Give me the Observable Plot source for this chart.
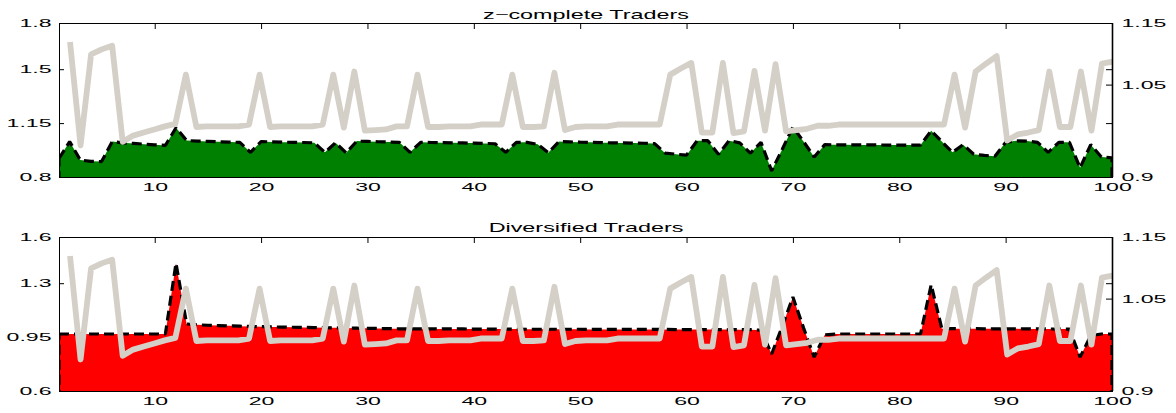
<!DOCTYPE html>
<html>
<head>
<meta charset="utf-8">
<script src="https://cdn.jsdelivr.net/npm/d3@7"></script>
<script src="https://cdn.jsdelivr.net/npm/@observablehq/plot@0.6"></script>
<style>
  html, body { margin: 0; padding: 0; background: #ffffff; }
  #chart { position: relative; width: 1176px; height: 413px; overflow: hidden; }
  .layer { position: absolute; left: 0; width: 1176px; }
  .layer svg { position: absolute; left: 0; top: 0; }
</style>
</head>
<body>
<div id="chart"></div>
<script>
// ---------------- data ----------------
const periods = d3.range(1, 101);          // left-axis x positions 1..100
const rightIndex = d3.range(1, 101);       // right-axis x positions (axes xlim 0..100)

const zComplete = [
  0.92, 1.03, 0.91, 0.902, 0.90, 1.03, 1.022, 1.018, 1.013, 1.009,
  1.005, 1.12, 1.037, 1.033, 1.031, 1.029, 1.027, 1.025, 0.96, 1.03,
  1.028, 1.026, 1.025, 1.024, 1.022, 0.96, 1.022, 0.957, 1.033, 1.031,
  1.029, 1.027, 1.025, 0.96, 1.025, 1.024, 1.023, 1.022, 1.021, 1.02,
  1.018, 1.016, 0.96, 1.025, 1.025, 1.012, 0.958, 1.03, 1.028, 1.026,
  1.025, 1.023, 1.022, 1.021, 1.02, 1.019, 1.017, 0.955, 0.948, 0.942,
  1.036, 1.036, 0.948, 1.036, 1.022, 0.955, 1.025, 0.84, 0.98, 1.125,
  1.03, 0.93, 1.01, 1.009, 1.009, 1.008, 1.008, 1.008, 1.007, 1.007,
  1.007, 1.007, 1.10, 1.03, 0.96, 1.01, 0.948, 0.94, 0.935, 1.025,
  1.035, 1.033, 1.025, 0.96, 1.025, 1.025, 0.86, 1.01, 0.93, 0.925
];

const diversified = [
  0.97, 0.97, 0.97, 0.97, 0.97, 0.97, 0.97, 0.97, 0.97, 0.97,
  0.97, 1.43, 1.035, 1.03, 1.027, 1.025, 1.023, 1.021, 1.019, 1.018,
  1.016, 1.015, 1.014, 1.013, 1.012, 1.011, 1.01, 1.009, 1.008, 1.007,
  1.006, 1.005, 1.004, 1.004, 1.004, 1.003, 1.003, 1.003, 1.003, 1.002,
  1.002, 1.002, 1.002, 1.002, 1.001, 1.001, 1.001, 1.001, 1.001, 1.001,
  1.0, 1.0, 1.0, 1.0, 1.0, 1.0, 1.0, 1.0, 0.999, 0.999,
  0.999, 0.999, 0.999, 0.999, 0.998, 0.998, 0.995, 0.84, 1.02, 1.21,
  1.01, 0.82, 0.965, 0.97, 0.97, 0.97, 0.97, 0.97, 0.97, 0.97,
  0.97, 0.97, 1.29, 1.005, 1.005, 1.005, 1.005, 1.004, 1.004, 1.004,
  1.004, 1.003, 1.003, 1.003, 1.002, 1.002, 0.82, 0.96, 0.97, 0.97
];

const rightSeries = [
  1.12, 0.952, 1.10, 1.108, 1.114, 0.958, 0.968, 0.973, 0.978, 0.983,
  0.987, 1.067, 0.982, 0.983, 0.983, 0.983, 0.983, 0.986, 1.067, 0.982,
  0.983, 0.983, 0.983, 0.983, 0.986, 1.067, 0.981, 1.072, 0.976, 0.977,
  0.978, 0.983, 0.983, 1.067, 0.982, 0.982, 0.983, 0.983, 0.983, 0.986,
  0.986, 0.986, 1.067, 0.982, 0.982, 0.983, 1.07, 0.977, 0.982, 0.983,
  0.983, 0.983, 0.986, 0.986, 0.986, 0.986, 0.986, 1.067, 1.077, 1.086,
  0.973, 0.973, 1.086, 0.972, 0.975, 1.073, 0.976, 1.084, 0.975, 0.977,
  0.979, 0.984, 0.984, 0.986, 0.986, 0.986, 0.986, 0.986, 0.986, 0.986,
  0.986, 0.986, 0.986, 0.986, 1.067, 0.981, 1.072, 1.085, 1.097, 0.96,
  0.97, 0.973, 0.977, 1.072, 0.982, 0.982, 1.072, 0.976, 1.085, 1.088
];

const titles = ["z\u2212complete Traders", "Diversified Traders"];
const xTicks = [10, 20, 30, 40, 50, 60, 70, 80, 90, 100];
const leftTicksTop = [0.8, 1.15, 1.5, 1.8];
const leftTicksBottom = [0.6, 0.95, 1.3, 1.6];
const rightTicks = [0.9, 1.05, 1.15];
const leftDomainTop = [0.8, 1.8];
const leftDomainBottom = [0.6, 1.6];
const rightDomain = [0.9, 1.15];
const xDomainLeft = [1, 100];
const xDomainRight = [0, 100];

// ---------------- rendering ----------------
const W = 1176;
const FONT = '"Liberation Sans", Arial, Helvetica, sans-serif';
const TICK_SX = 2.1, TITLE_SX = 1.87;

function stretchText(svg) {
  svg.querySelectorAll("text").forEach(t => {
    const g = t.closest("g[aria-label]");
    const label = g ? g.getAttribute("aria-label") : "";
    const sx = /tick label/.test(label) ? TICK_SX : TITLE_SX;
    const tr = t.getAttribute("transform");
    if (tr) t.setAttribute("transform", `${tr} scale(${sx},1)`);
    else {
      const x = t.getAttribute("x") || 0;
      t.removeAttribute("x");
      t.setAttribute("transform", `translate(${x},0) scale(${sx},1)`);
    }
  });
}

function panel({top, height, mt, mb, leftDomain, leftTicks, values, fill, title, titleDy}) {
  const layer = document.createElement("div");
  layer.className = "layer";
  layer.style.top = top + "px";
  layer.style.height = height + "px";
  const rows = periods.map((t, k) => ({t, v: values[k]}));
  const grayRows = rightIndex.map((i, k) => ({i, v: rightSeries[k]}));
  const common = {
    width: W, height, marginLeft: 59, marginRight: 64, marginTop: mt, marginBottom: mb,
    style: {background: "transparent", fontFamily: FONT, fontSize: "11px", color: "black", overflow: "visible"}
  };
  const left = Plot.plot({
    ...common,
    x: {domain: xDomainLeft, label: null},
    y: {domain: leftDomain, label: null},
    marks: [
      Plot.axisX({anchor: "top", ticks: xTicks, tickSize: -5, tickFormat: () => "", label: null}),
      Plot.axisX({anchor: "bottom", ticks: xTicks, tickSize: 0, tickPadding: 6, tickFormat: d => String(d), label: null}),
      Plot.axisY({anchor: "left", ticks: leftTicks, tickSize: -5, tickFormat: () => "", label: null}),
      Plot.axisY({anchor: "left", ticks: leftTicks, tickSize: 0, tickPadding: 8, tickFormat: d => String(d), label: null}),
      Plot.axisY({anchor: "right", ticks: leftTicks, tickSize: -7, tickFormat: () => "", label: null}),
      Plot.areaY(rows, {x: "t", y: "v", fill, clip: true}),
      Plot.frame({stroke: "black"}),
      Plot.areaY(rows, {x: "t", y: "v", fill: "none", stroke: "black", strokeWidth: 3.2,
        strokeDasharray: "10,5", strokeLinejoin: "miter", strokeLinecap: "butt", clip: true}),
      Plot.text([title], {text: d => d, frameAnchor: "top", dy: titleDy, fontSize: 12.5, fill: "black"})
    ]
  });
  const right = Plot.plot({
    ...common,
    x: {domain: xDomainRight, axis: null, label: null},
    y: {domain: rightDomain, label: null},
    marks: [
      Plot.line(grayRows, {x: "i", y: "v", stroke: "#d4d0c8", strokeWidth: 5.8, strokeLinecap: "butt", strokeLinejoin: "round", clip: true}),
      Plot.ruleX(xDomainRight.slice(-1), {stroke: "black", strokeWidth: 1.6}),
      Plot.axisY({anchor: "right", ticks: rightTicks, tickSize: -7, tickFormat: () => "", label: null}),
      Plot.axisY({anchor: "right", ticks: rightTicks, tickSize: 0, tickPadding: 9, tickFormat: d => String(d), label: null})
    ]
  });
  stretchText(left);
  stretchText(right);
  layer.appendChild(left);
  layer.appendChild(right);
  document.getElementById("chart").appendChild(layer);
}

panel({top: 0, height: 206, mt: 23, mb: 29, leftDomain: leftDomainTop, leftTicks: leftTicksTop,
  values: zComplete, fill: "#008000", title: titles[0], titleDy: -13});
panel({top: 206, height: 207, mt: 31, mb: 22, leftDomain: leftDomainBottom, leftTicks: leftTicksBottom,
  values: diversified, fill: "#ff0000", title: titles[1], titleDy: -14});
</script>
</body>
</html>
